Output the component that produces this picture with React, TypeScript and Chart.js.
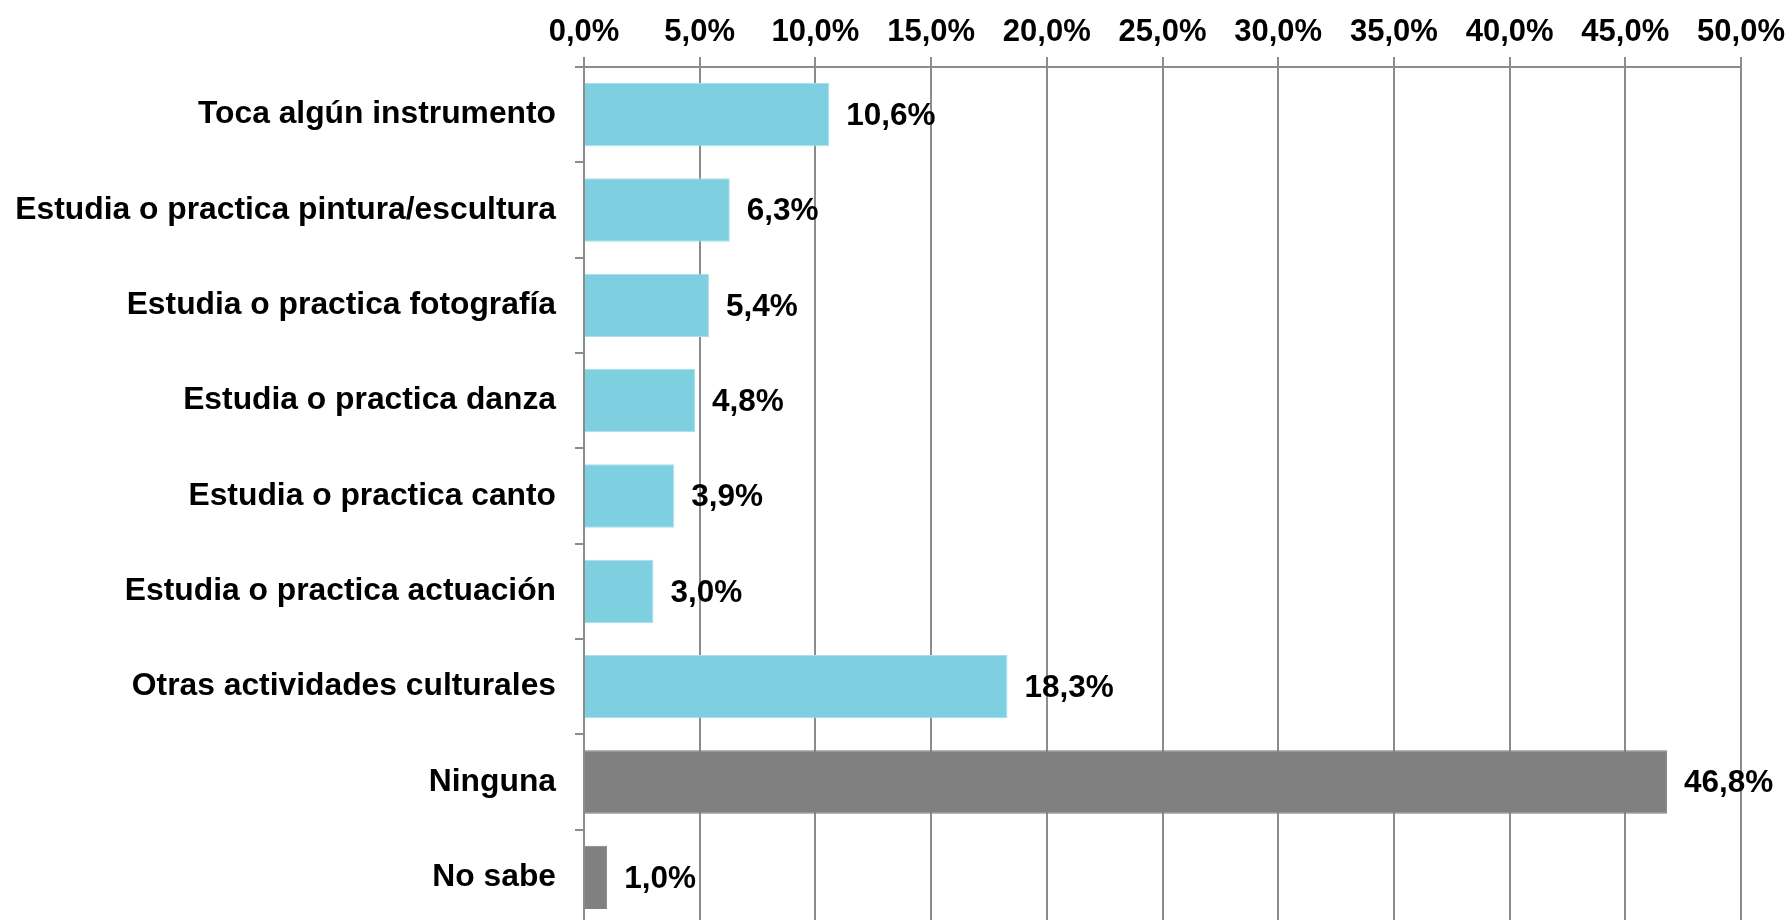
import React, { useEffect, useRef } from "react";
import { Chart, registerables } from "chart.js";

Chart.register(...registerables);

const categories = [
  "Toca algún instrumento",
  "Estudia o practica pintura/escultura",
  "Estudia o practica fotografía",
  "Estudia o practica danza",
  "Estudia o practica canto",
  "Estudia o practica actuación",
  "Otras actividades culturales",
  "Ninguna",
  "No sabe",
];
const values = [10.6, 6.3, 5.4, 4.8, 3.9, 3.0, 18.3, 46.8, 1.0];
const barColors = [
  "#7ecfe0", "#7ecfe0", "#7ecfe0", "#7ecfe0", "#7ecfe0", "#7ecfe0", "#7ecfe0",
  "#808080", "#808080",
];
const barEdgeColors = [
  "#a4dfeb", "#a4dfeb", "#a4dfeb", "#a4dfeb", "#a4dfeb", "#a4dfeb", "#a4dfeb",
  "#808080", "#808080",
];
const axisMin = 0;
const axisMax = 50;
const axisStep = 5;

const FONT = "'Liberation Sans', Arial, sans-serif";
const fmt = (v: number) => v.toFixed(1).replace(".", ",") + "%";

const valueLabels = {
  id: "valueLabels",
  afterDatasetsDraw(chart: any) {
    const ctx = chart.ctx;
    const meta = chart.getDatasetMeta(0);
    ctx.save();
    ctx.font = `bold 31.5px ${FONT}`;
    ctx.fillStyle = "#000";
    ctx.textAlign = "left";
    ctx.textBaseline = "middle";
    meta.data.forEach((el: any, i: number) => {
      ctx.fillText(fmt(values[i]), el.x + 17, el.y + 1.5);
    });
    ctx.restore();
  },
};

const noPad = (s: any) => {
  s.paddingLeft = 0;
  s.paddingRight = 0;
  s.paddingTop = 0;
  s.paddingBottom = 0;
};

export default function App() {
  const ref = useRef<HTMLCanvasElement | null>(null);
  useEffect(() => {
    if (!ref.current) return;
    const chart = new Chart(ref.current, {
      type: "bar",
      data: {
        labels: categories,
        datasets: [
          {
            data: values,
            backgroundColor: barColors,
            borderColor: barEdgeColors,
            borderWidth: 1,
            barPercentage: 0.664,
            categoryPercentage: 1,
          },
        ],
      },
      options: {
        indexAxis: "y",
        responsive: false,
        animation: false,
        events: [],
        layout: { padding: { left: 0, right: 51, top: 0, bottom: 3 } },
        plugins: { legend: { display: false }, tooltip: { enabled: false } },
        scales: {
          x: {
            position: "top",
            min: axisMin,
            max: axisMax,
            afterFit: (s: any) => {
              s.height = 67;
              noPad(s);
            },
            ticks: {
              stepSize: axisStep,
              color: "#000",
              padding: 6,
              font: { family: FONT, size: 31, weight: "bold" },
              callback: (v: any) => fmt(Number(v)),
              maxRotation: 0,
              autoSkip: false,
            },
            grid: { color: "#8c8c8c", lineWidth: 2, tickLength: 10, drawOnChartArea: true },
            border: { color: "#8c8c8c", width: 2 },
          },
          y: {
            offset: true,
            afterFit: (s: any) => {
              s.width = 584;
              noPad(s);
            },
            ticks: {
              color: "#000",
              padding: 19,
              font: { family: FONT, size: 31.8, weight: "bold" },
              autoSkip: false,
            },
            grid: {
              offset: true,
              drawOnChartArea: false,
              color: "#8c8c8c",
              lineWidth: 2,
              tickLength: 9,
            },
            border: { color: "#8c8c8c", width: 2 },
          },
        },
      },
      plugins: [valueLabels],
    });
    return () => chart.destroy();
  }, []);
  return (
    <div
      style={{
        position: "fixed",
        left: 0,
        top: 0,
        width: 1792,
        height: 920,
        overflow: "hidden",
        background: "#fff",
      }}
    >
      <canvas ref={ref} width={1792} height={928} style={{ display: "block" }} />
    </div>
  );
}
